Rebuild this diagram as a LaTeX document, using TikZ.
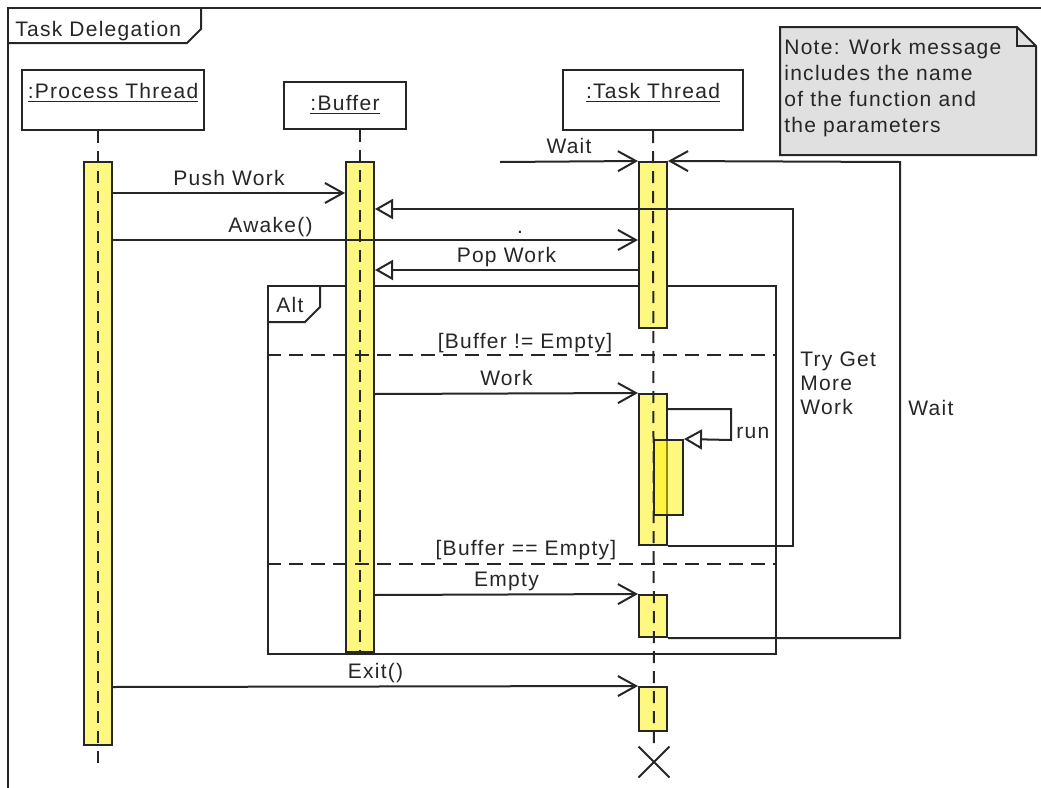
\documentclass[tikz,border=0pt]{standalone}
\usepackage{fontspec}
\setmainfont{Liberation Sans}[LetterSpace=6]
\usetikzlibrary{arrows.meta,fit,shapes.misc}

\colorlet{ink}{black!85}
\colorlet{actfill}{yellow!50}
\colorlet{notefill}{black!12}

\tikzset{
  head/.style={draw=ink, line width=1pt, fill=white, inner sep=0pt},
  act/.style={draw=ink, line width=1pt, fill=actfill, inner sep=0pt},
  life/.style={draw=ink, line width=1pt, dash pattern=on 6pt off 4pt},
  guard/.style={draw=ink, line width=1pt, dash pattern=on 7pt off 4pt},
  msg/.style={draw=ink, line width=1pt, -{Straight Barb[length=9pt,width=10pt]}},
  ret/.style={draw=ink, line width=1pt, -{Triangle[open,length=9pt,width=10pt]}},
  lbl/.style={inner sep=3.3pt, text depth=0pt},
}

\begin{document}
\begin{tikzpicture}[x=0.5pt, y=-0.5pt, every node/.style={font=\fontsize{10.5}{13}\selectfont, text=ink}]
  \useasboundingbox (0,0) rectangle (1041,788);

  % frame
  \draw[ink, line width=1.2pt] (8,788) -- (8,8) -- (1041,8);
  \draw[ink, line width=1pt] (8,43) -- (187,43) -- (201,29) -- (201,8);
  \node[anchor=base west, inner sep=0pt] (title) at (15,36) {Task Delegation};

  % note
  \draw[ink, line width=1pt, fill=notefill] (780,27) -- (1017,27) -- (1036,46) -- (1036,155) -- (780,155) -- cycle;
  \draw[ink, line width=1pt] (1017,27) |- (1036,46);
  \node[anchor=north west, align=left, inner sep=0pt] (note) at (784,39)
    {Note: Work message\\includes the name\\of the function and\\the parameters};

  % lifeline heads
  \node[head, fit={(22,70) (204,130)}] (proc) {};
  \node[head, fit={(284,82) (406,129)}] (buf) {};
  \node[head, fit={(563,70) (743,130)}] (task) {};
  \node[anchor=base] (procname) at (113,98) {\underline{:Process Thread}};
  \node[anchor=base] (bufname) at (345,110) {\underline{:Buffer}};
  \node[anchor=base] (taskname) at (653,98) {\underline{:Task Thread}};

  % alt fragment
  \node[draw=ink, line width=1pt, inner sep=0pt, fit={(268,286) (776,654)}] (alt) {};
  \draw[ink, line width=1pt] (268,322) -- (305,322) -- (320,307) -- (320,286);
  \node[anchor=base west, inner sep=0pt] (altname) at (276,312) {Alt};

  % activations
  \node[act, fit={(84,162) (112,745)}] (pa) {};
  \node[act, fit={(346,162) (374,652)}] (ba) {};
  \node[act, fit={(639,162) (667,328)}] (ta1) {};
  \node[act, fit={(639,394) (667,545)}] (ta2) {};
  \node[act, fit={(639,595) (667,637)}] (ta3) {};
  \node[act, fit={(639,687) (667,731)}] (ta4) {};
  \node[cross out, draw=ink, line width=1pt, inner sep=0pt, minimum size=14.5pt] (end) at (654,762) {};

  % lifelines
  \draw[life] (pa.center |- proc.south) -- (pa.center |- 0,763);
  \draw[life] (ba.center |- buf.south) -- (ba.south);
  \draw[life] (ta1.center |- task.south) -- (end.north);
  \node[act, fill=yellow, fill opacity=0.5, fit={(654,440) (683,515)}] (tn) {};

  % guards
  \draw[guard] (alt.west |- 0,355) -- (alt.east |- 0,355);
  \draw[guard] (alt.west |- 0,564) -- (alt.east |- 0,564);
  \node[anchor=base] (g1) at (525,348) {[Buffer != Empty]};
  \node[anchor=base] (g2) at (526,555) {[Buffer == Empty]};

  % messages
  \coordinate (waitin) at (500,162);
  \draw[msg] (waitin) -- (ta1.north west) node[lbl, midway, above] {Wait};
  \draw[msg] (pa.east |- 0,193) -- (ba.west |- 0,193) node[lbl, midway, above] {Push Work};
  \coordinate (tryc) at (793,209);
  \draw[ret] (ta2.south east) -| (tryc) -- (ba.east |- tryc);
  \node[anchor=north west, align=left, inner sep=0pt, font=\fontsize{10.5}{12}\selectfont] (trylbl) at (800,351) {Try Get\\More\\Work};
  \draw[msg] (pa.east |- 0,240) -- (ta1.west |- 0,240) node[lbl, pos=0.3, above] {Awake()};
  \node[anchor=base] (dot) at (520,233) {.};
  \draw[ret] (ta1.west |- 0,270) -- (ba.east |- 0,270) node[lbl, midway, above] {Pop Work};
  \draw[msg] (ba.east |- 0,394) -- (ta2.north west) node[lbl, midway, above] {Work};
  \coordinate (runc) at (731,440);
  \draw[ret] (ta2.east |- 0,409) -| (runc) -- (tn.north east);
  \node[anchor=base west, inner sep=0pt] (runlbl) at (736,438) {run};
  \draw[msg] (ba.east |- 0,595) -- (ta3.north west) node[lbl, midway, above] {Empty};
  \coordinate (waitc) at (900,162);
  \draw[msg] (ta3.south east) -| (waitc) -- (ta1.north east);
  \node[anchor=base west, inner sep=0pt] (waitlbl) at (908,415) {Wait};
  \draw[msg] (pa.east |- 0,687) -- (ta4.north west) node[lbl, midway, above] {Exit()};
\end{tikzpicture}
\end{document}
